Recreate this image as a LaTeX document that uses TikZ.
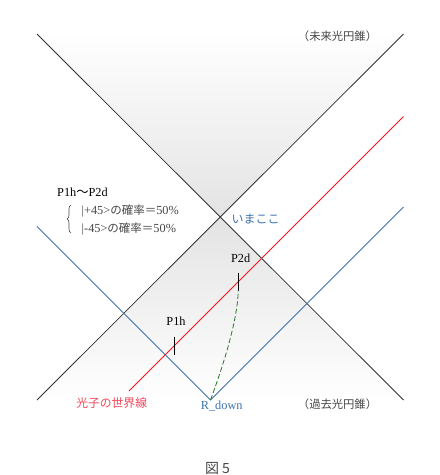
\documentclass[tikz,border=0pt]{standalone}
\usepackage{fontspec}
\setmainfont{Liberation Serif}
\newfontfamily\jp{Noto Sans CJK JP}
\usetikzlibrary{decorations.pathreplacing}
\definecolor{conec}{RGB}{50,50,50}
\definecolor{bluec}{RGB}{60,115,170}
\definecolor{redc}{RGB}{255,20,30}
\definecolor{redt}{RGB}{245,70,90}
\definecolor{grayt}{RGB}{70,70,70}
\definecolor{greenc}{RGB}{40,120,40}
\tikzset{
  cone/.style={draw=conec, line width=0.8pt},
  bline/.style={draw=bluec, line width=0.8pt},
  rline/.style={draw=redc, line width=0.75pt},
  tick/.style={draw=black, line width=0.9pt},
  geo/.style={draw=greenc, dashed, dash pattern=on 5pt off 2.5pt, line width=0.8pt},
  lbl/.style={inner sep=0pt, font=\fontsize{12.3}{14}\selectfont},
  jlbl/.style={inner sep=0pt, font=\jp\fontsize{11.8}{14}\selectfont},
}
\begin{document}
\begin{tikzpicture}[x=1pt,y=-1pt]
\useasboundingbox (0,0) rectangle (440,475);
% light cone corners
\coordinate (TL) at (37,34);
\coordinate (TR) at (403.5,34);
\coordinate (BL) at (37,400);
\coordinate (BR) at (403.5,400);
\coordinate (C) at (220.25,217.25);
% shading
\shade[top color=white, bottom color=black!11] (TL) -- (TR) -- (C) -- cycle;
\shade[top color=black!11, bottom color=white] (C) -- (BL) -- (BR) -- cycle;
\draw[cone] (TL) -- (BR);
\draw[cone] (TR) -- (BL);
% blue V
\coordinate (R) at (210.5,400);
\coordinate (BlueL) at (37,226.5);
\coordinate (BlueR) at (403.5,207);
\draw[bline] (BlueL) -- (R) -- (BlueR);
% red photon world line
\coordinate (RedA) at (129,391);
\coordinate (RedB) at (403.5,116.5);
\draw[rline] (RedA) -- (RedB);
% ticks
\coordinate (P1t) at (174.3,336.5);
\coordinate (P1b) at (174.3,354.5);
\coordinate (P2t) at (238.3,272.5);
\coordinate (P2b) at (238.3,290.5);
\draw[tick] (P1t) -- (P1b);
\draw[tick] (P2t) -- (P2b);
% geodesic
\draw[geo] (R) .. controls (226,358) and (237.5,318) .. (P2b);
% labels
\node[lbl] (p1h) at (176,321.7) {P1h};
\node[lbl] (p2d) at (240.7,258.3) {P2d};
\node[lbl, text=bluec] (rdown) at (221.7,406) {R\_down};
\node[jlbl, text=redt] (photon) at (111.7,403.3) {光子の世界線};
\node[jlbl, text=grayt, font=\jp\fontsize{11.3}{14}\selectfont] (future) at (337.5,36.7) {（未来光円錐）};
\node[jlbl, text=grayt, font=\jp\fontsize{11.3}{14}\selectfont] (past) at (337.5,404) {（過去光円錐）};
\node[jlbl, text=bluec, font=\jp\fontsize{12}{14}\selectfont] (now) at (255.5,219) {いまここ};
\node[lbl, anchor=west] (range) at (57,192.7) {P1h{\jp ～}P2d};
\node[lbl, anchor=west, text=grayt] (plus) at (81.5,211) {|+45>{\jp\fontsize{11.5}{14}\selectfont の確率＝}50\%};
\node[lbl, anchor=west, text=grayt] (minus) at (81.5,228.5) {|-45>{\jp\fontsize{11.5}{14}\selectfont の確率＝}50\%};
\coordinate (BrT) at (71,205);
\coordinate (BrB) at (71,233);
\draw[draw=grayt, line width=0.6pt, decorate, decoration={brace, amplitude=4pt, mirror}] (BrT) -- (BrB);
\node[jlbl, text=grayt, font=\jp\fontsize{14}{16}\selectfont] (fig) at (217.5,468.3) {図 5};
\end{tikzpicture}
\end{document}
